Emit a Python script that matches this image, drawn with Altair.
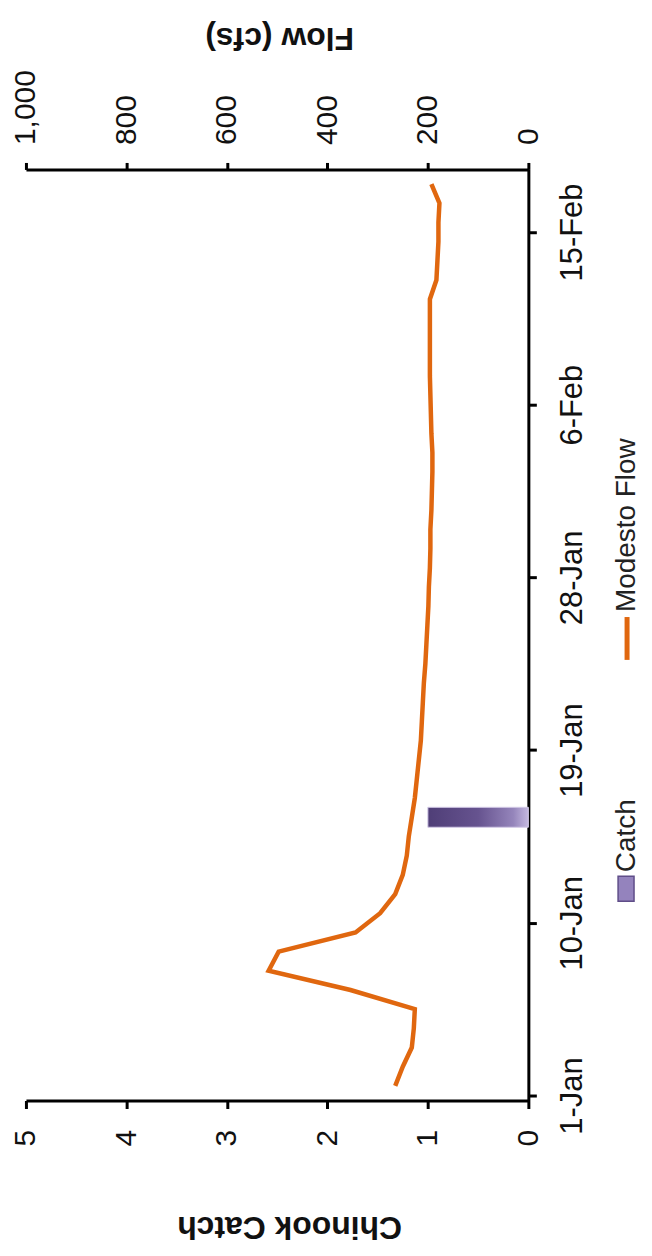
import altair as alt
import pandas as pd

# ---- data ----
dates = [
    "2010-01-01", "2010-01-02", "2010-01-03", "2010-01-04", "2010-01-05", "2010-01-06",
    "2010-01-07", "2010-01-08", "2010-01-09", "2010-01-10", "2010-01-11", "2010-01-12",
    "2010-01-13", "2010-01-14", "2010-01-15", "2010-01-16", "2010-01-17", "2010-01-18",
    "2010-01-19", "2010-01-20", "2010-01-21", "2010-01-22", "2010-01-23", "2010-01-24",
    "2010-01-25", "2010-01-26", "2010-01-27", "2010-01-28", "2010-01-29", "2010-01-30",
    "2010-01-31", "2010-02-01", "2010-02-02", "2010-02-03", "2010-02-04", "2010-02-05",
    "2010-02-06", "2010-02-07", "2010-02-08", "2010-02-09", "2010-02-10", "2010-02-11",
    "2010-02-12", "2010-02-13", "2010-02-14", "2010-02-15", "2010-02-16", "2010-02-17",
]
modesto_flow = [
    265, 250, 232, 228, 226, 354, 517, 497, 344, 295, 265, 250,
    242, 238, 232, 226, 222, 218, 214, 212, 210, 208, 205, 203,
    201, 199, 198, 196, 195, 195, 193, 192, 191, 191, 193, 194,
    195, 196, 196, 196, 196, 196, 183, 181, 179, 179, 177, 193,
]
catch_dates = ["2010-01-15"]
catch_counts = [1]

tick_dates = [(2010, 1, 1), (2010, 1, 10), (2010, 1, 19), (2010, 1, 28), (2010, 2, 6), (2010, 2, 15)]
date_domain = [(2010, 1, 1), (2010, 2, 18)]
catch_ticks = [0, 1, 2, 3, 4, 5]
flow_ticks = [0, 200, 400, 600, 800, 1000]

# daily values are drawn at the middle of each day (Excel date axis)
flow_df = pd.DataFrame({"date": pd.to_datetime(dates) + pd.Timedelta(hours=12),
                        "flow": modesto_flow})
catch_df = pd.DataFrame({"date": pd.to_datetime(catch_dates) + pd.Timedelta(hours=12),
                         "catch": catch_counts})

FONT = "Liberation Sans"
INK = "#111111"
ORANGE = "#E0670F"

def dt(t):
    return alt.DateTime(year=t[0], month=t[1], date=t[2])

y_enc = alt.Y(
    "date:T",
    scale=alt.Scale(domain=[dt(t) for t in date_domain]),
    axis=alt.Axis(
        orient="right", values=[dt(t) for t in tick_dates], format="%-d-%b",
        labelAngle=270, labelAlign="center", labelBaseline="top",
        labelFontSize=31, labelFont=FONT, labelColor=INK, labelPadding=21,
        labelOverlap=False, labelFlush=False,
        tickSize=8, tickWidth=3, tickColor="black",
        domainWidth=3, domainColor="black", grid=False, title=None,
    ),
)

bar = alt.Chart(catch_df).mark_bar(
    orient="horizontal", size=20,
    fill=alt.LinearGradient(
        gradient="linear", x1=0, x2=1, y1=0, y2=0,
        stops=[alt.GradientStop(color="#4f3e77", offset=0),
               alt.GradientStop(color="#66538f", offset=0.5),
               alt.GradientStop(color="#9585bb", offset=0.85),
               alt.GradientStop(color="#c4b8df", offset=1)]),
    stroke="#d2c9e6", strokeWidth=1,
).encode(
    x=alt.X("catch:Q",
            scale=alt.Scale(domain=[0, 5], reverse=True, nice=False),
            axis=alt.Axis(
                orient="bottom", values=catch_ticks, format="d",
                labelAngle=270, labelAlign="right", labelBaseline="middle",
                labelFontSize=30, labelFont=FONT, labelColor=INK, labelPadding=21,
                labelFlush=False, labelOverlap=False,
                tickSize=8, tickWidth=3, tickColor="black",
                domainWidth=3, domainColor="black", grid=False,
                title="Chinook Catch", titleAngle=180, titleFontSize=32,
                titleFont=FONT, titleFontWeight="bold", titleColor=INK,
                titleX=264, titleY=126, titleAlign="center", titleBaseline="middle",
            )),
    y=y_enc,
)

line = alt.Chart(flow_df).mark_line(
    color=ORANGE, strokeWidth=4.5, strokeJoin="miter",
).encode(
    x=alt.X("flow:Q",
            scale=alt.Scale(domain=[0, 1000], reverse=True, nice=False),
            axis=alt.Axis(
                orient="top", values=flow_ticks, format=",.0f",
                labelAngle=270, labelAlign="left", labelBaseline="middle",
                labelFontSize=30, labelFont=FONT, labelColor=INK, labelPadding=18,
                labelFlush=False, labelOverlap=False,
                tickSize=7, tickWidth=3, tickColor="black",
                domainWidth=3, domainColor="black", grid=False,
                title="Flow (cfs)", titleAngle=180, titleFontSize=32,
                titleFont=FONT, titleFontWeight="bold", titleColor=INK,
                titleX=254, titleY=-132, titleAlign="center", titleBaseline="middle",
            )),
    y=y_enc,
)

# ---- legend (rotated like the rest of the chart) ----
one = alt.Data(values=[{}])
legend_catch_sym = alt.Chart(one).mark_rect(
    fill="#9483bd", stroke="#5f4d88", strokeWidth=1.5,
).encode(x=alt.value(594), x2=alt.value(610), y=alt.value(709), y2=alt.value(734))
legend_catch_txt = alt.Chart(one).mark_text(
    angle=270, align="left", baseline="middle", fontSize=28, font=FONT, color="#222222",
).encode(x=alt.value(603), y=alt.value(705), text=alt.value("Catch"))
legend_flow_sym = alt.Chart(one).mark_rule(
    color=ORANGE, strokeWidth=5,
).encode(x=alt.value(603), y=alt.value(449), y2=alt.value(492))
legend_flow_txt = alt.Chart(one).mark_text(
    angle=270, align="left", baseline="middle", fontSize=28, font=FONT, color="#222222",
).encode(x=alt.value(603), y=alt.value(444), text=alt.value("Modesto Flow"))

chart = alt.layer(
    bar, line, legend_catch_sym, legend_catch_txt, legend_flow_sym, legend_flow_txt,
).resolve_scale(
    x="independent"
).properties(
    width=504, height=934,
    autosize=alt.AutoSizeParams(type="none"),
    padding={"left": 18, "top": 160, "right": 116, "bottom": 146},
    background="white",
).configure_view(stroke=None)

chart.save("out.html", embed_options={"renderer": "svg", "actions": False})
